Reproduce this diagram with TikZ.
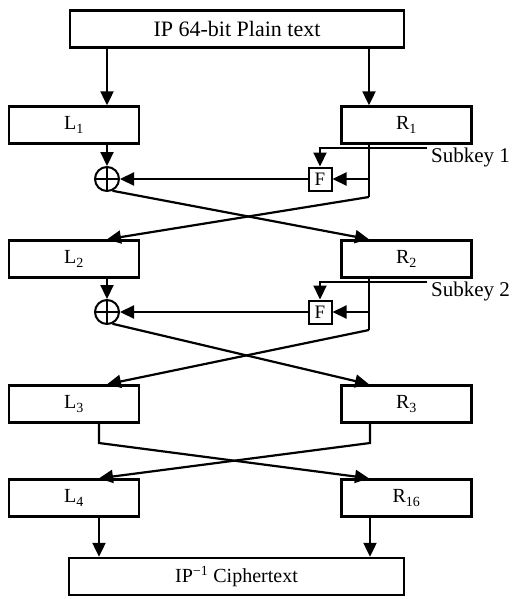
\documentclass[tikz,border=0pt]{standalone}
\usepackage{fontspec}
\setmainfont{Liberation Serif}
\usetikzlibrary{arrows.meta}
\begin{document}
\begin{tikzpicture}[x=1pt,y=-1pt,
  box/.style={draw, line width=2.4pt, inner sep=0pt, minimum height=37pt, font=\fontsize{20}{24}\selectfont},
  halfbox/.style={box, minimum width=130pt},
  ln/.style={line width=2.2pt},
  arr/.style={ln, -{Triangle[length=14pt,width=13pt]}},
  xorc/.style={circle, draw, line width=2pt, minimum size=24pt, inner sep=0pt},
  fbox/.style={draw, line width=2pt, minimum size=23pt, inner sep=0pt, font=\fontsize{19}{22}\selectfont},
  keytext/.style={anchor=base west, inner sep=0pt, font=\fontsize{21}{24}\selectfont},
]
\useasboundingbox (0,0) rectangle (515,599);

\coordinate (xl) at (107,0);
\coordinate (xr) at (369,0);
\coordinate (xl2) at (99,0);
\coordinate (xr2) at (370,0);

% boxes
\node[box, minimum width=334pt, font=\fontsize{22}{26}\selectfont] (top) at (237,29) {IP 64-bit Plain text};
\node[halfbox] (L1) at (74,125) {L\textsubscript{1}};
\node[halfbox] (R1) at (406.5,125) {R\textsubscript{1}};
\node[halfbox] (L2) at (74,259) {L\textsubscript{2}};
\node[halfbox] (R2) at (406.5,259) {R\textsubscript{2}};
\node[halfbox] (L3) at (74,404) {L\textsubscript{3}};
\node[halfbox] (R3) at (406.5,404) {R\textsubscript{3}};
\node[halfbox] (L4) at (74,498) {L\textsubscript{4}};
\node[halfbox] (R4) at (406.5,498) {R\textsubscript{16}};
\node[box, minimum width=335pt] (bot) at (236.5,576.5) {IP\textsuperscript{−1} Ciphertext};

% round functions
\node[xorc] (X1) at (107,179) {};
\node[xorc] (X2) at (107,312) {};
\foreach \x in {X1,X2}{
  \draw[line width=2pt] (\x.north) -- (\x.south) (\x.west) -- (\x.east);
}
\node[fbox] (F1) at (320,179) {F};
\node[fbox] (F2) at (320,312) {F};

\node[keytext] (K1) at (431,162) {Subkey 1};
\node[keytext] (K2) at (431,296) {Subkey 2};
\coordinate (k1) at (427,148);
\coordinate (k2) at (427,282);
\coordinate (r1b) at (369,197);
\coordinate (r2b) at (369,330);
\coordinate (c1) at (99,443);
\coordinate (c2) at (370,443);

% top arrows
\draw[arr] (top.south -| xl) -- (L1.north -| xl);
\draw[arr] (top.south -| xr) -- (R1.north -| xr);

% round 1
\draw[arr] (L1.south -| xl) -- (X1.north);
\draw[ln] (R1.south -| xr) -- (r1b);
\draw[arr] (F1 -| xr) -- (F1.east);
\draw[arr] (k1) -| (F1.north);
\draw[arr] (F1.west) -- (X1.east);
\draw[arr] (r1b) -- (L2.north -| xl);
\draw[arr] (X1.-65) -- (R2.north -| xr);

% round 2
\draw[arr] (L2.south -| xl) -- (X2.north);
\draw[ln] (R2.south -| xr) -- (r2b);
\draw[arr] (F2 -| xr) -- (F2.east);
\draw[arr] (k2) -| (F2.north);
\draw[arr] (F2.west) -- (X2.east);
\draw[arr] (r2b) -- (L3.north -| xl);
\draw[arr] (X2.-65) -- (R3.north -| xr);

% round 3 swap
\draw[arr] (L3.south -| xl2) -- (c1) -- (R4.north -| xr);
\draw[arr] (R3.south -| xr2) -- (c2) -- (L4.north -| xl2);

% output
\draw[arr] (L4.south -| xl2) -- (bot.north -| xl2);
\draw[arr] (R4.south -| xr2) -- (bot.north -| xr2);
\end{tikzpicture}
\end{document}
